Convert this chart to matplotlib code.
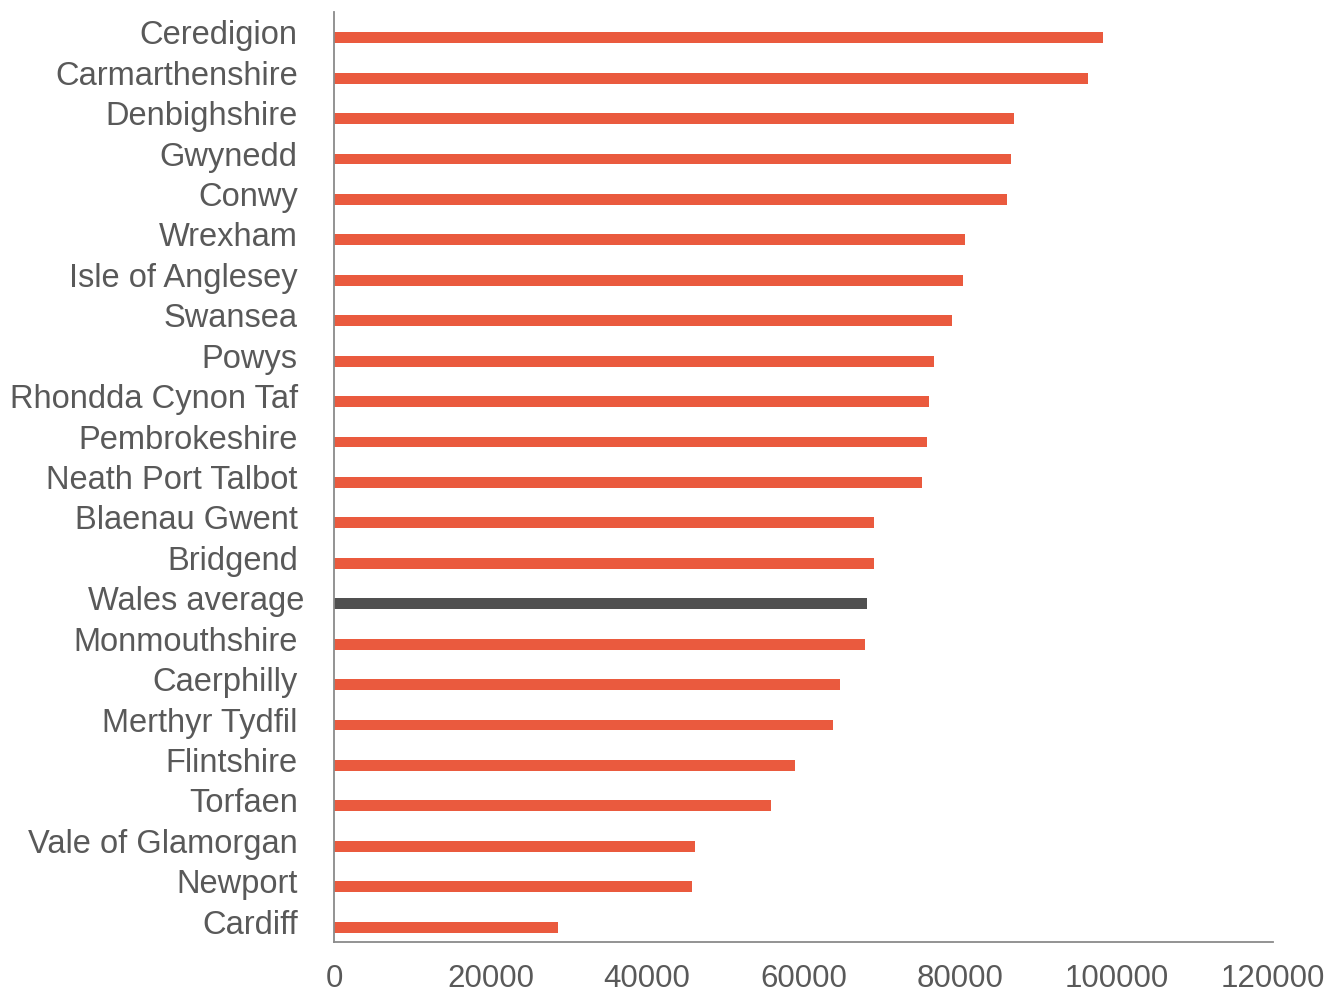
import numpy as np
import matplotlib.pyplot as plt

plt.rcParams['font.family'] = ['Liberation Sans', 'DejaVu Sans']

areas = ["Ceredigion", "Carmarthenshire", "Denbighshire", "Gwynedd", "Conwy",
         "Wrexham", "Isle of Anglesey", "Swansea", "Powys", "Rhondda Cynon Taf",
         "Pembrokeshire", "Neath Port Talbot", "Blaenau Gwent", "Bridgend",
         "Wales average", "Monmouthshire", "Caerphilly", "Merthyr Tydfil",
         "Flintshire", "Torfaen", "Vale of Glamorgan", "Newport", "Cardiff"]
values = [98300, 96400, 86900, 86500, 86000,
          80600, 80400, 79000, 76700, 76000,
          75800, 75100, 69000, 69000,
          68100, 67900, 64700, 63800,
          58900, 55800, 46100, 45800, 28600]
xticks = [0, 20000, 40000, 60000, 80000, 100000, 120000]

orange = "#EA5A3E"
dark = "#505050"
grey_text = "#595959"
colors = [dark if a == "Wales average" else orange for a in areas]

fig = plt.figure(figsize=(13.3, 9.93), dpi=100)
ax = fig.add_axes([0.2511, 0.0514, 0.9571 - 0.2511, 0.9879 - 0.0514])

y = np.arange(len(areas))
ax.barh(y + 0.135, values, height=0.27, color=colors)

ax.set_xlim(0, 120000)
ax.set_ylim(len(areas) - 0.5, -0.5)
ax.set_xticks(xticks)
ax.set_xticklabels([str(t) for t in xticks])
ax.set_yticks(y)
ax.set_yticklabels(areas)
ax.tick_params(axis='both', length=0, colors=grey_text)
ax.tick_params(axis='x', pad=16, labelsize=22.5)
ax.tick_params(axis='y', pad=26, labelsize=23.5)

# the Wales average label sits a little further right in the original
for lab in ax.get_yticklabels():
    if lab.get_text() == "Wales average":
        lab.set_x(0.007)

for s in ["top", "right"]:
    ax.spines[s].set_visible(False)
for s in ["left", "bottom"]:
    ax.spines[s].set_color("#8a8a8a")
    ax.spines[s].set_linewidth(1.3)

fig.savefig("out.png", dpi=100)
